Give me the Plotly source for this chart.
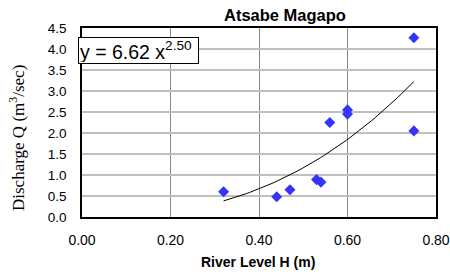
import numpy as np
import plotly.graph_objects as go

H = [0.32, 0.44, 0.47, 0.53, 0.54, 0.56, 0.60, 0.60, 0.75, 0.75]
Q = [0.60, 0.48, 0.65, 0.89, 0.83, 2.25, 2.55, 2.45, 4.27, 2.05]
coef = 6.62
expo = 2.50
x_ticks = [0.0, 0.2, 0.4, 0.6, 0.8]
y_ticks = [0.0, 0.5, 1.0, 1.5, 2.0, 2.5, 3.0, 3.5, 4.0, 4.5]

xf = np.linspace(min(H), max(H), 60)
yf = coef * xf ** expo

L, R, T, B = 82, 436, 28, 217
W, Hh = 450, 277
pw, ph = R - L, B - T

fig = go.Figure()
fig.add_trace(go.Scatter(x=xf, y=yf, mode="lines",
                         line=dict(color="black", width=1), hoverinfo="skip"))
fig.add_trace(go.Scatter(x=H, y=Q, mode="markers",
                         marker=dict(symbol="diamond", size=8.5, color="#3535F8")))

fig.update_layout(
    width=W, height=Hh,
    margin=dict(l=L, r=W - R, t=T, b=Hh - B, autoexpand=False),
    paper_bgcolor="white", plot_bgcolor="white",
    showlegend=False,
    font=dict(family="Liberation Sans, Arial", size=13.5, color="black"),
)
fig.update_xaxes(range=[0, 0.8], tickvals=x_ticks, ticktext=[f"{v:.2f}" for v in x_ticks],
                 showgrid=True, gridcolor="#888888", gridwidth=1,
                 showline=True, linecolor="black", linewidth=1.5, mirror=True,
                 ticks="", zeroline=False, ticklabelstandoff=9, automargin=False,
                 tickfont=dict(size=14))
fig.update_yaxes(range=[0, 4.5], tickvals=y_ticks, ticktext=[f"{v:.1f}" for v in y_ticks],
                 showgrid=True, gridcolor="#c0c0c0", gridwidth=1.5,
                 showline=True, linecolor="black", linewidth=1.5, mirror=True,
                 ticks="", zeroline=False, ticklabelstandoff=11, automargin=False,
                 tickfont=dict(size=13.5))

# chart title
fig.add_annotation(xref="paper", yref="paper", x=(285 - L) / pw, y=(B - 14.5) / ph,
                   xanchor="center", yanchor="middle", showarrow=False,
                   text="<b>Atsabe Magapo</b>",
                   font=dict(size=16.5, family="Liberation Sans, Arial", color="black"))
# x axis title
fig.add_annotation(xref="paper", yref="paper", x=(258 - L) / pw, y=(B - 262) / ph,
                   xanchor="center", yanchor="middle", showarrow=False,
                   text="<b>River Level H (m)</b>",
                   font=dict(size=14, family="Liberation Sans, Arial", color="black"))
# y axis title
fig.add_annotation(xref="paper", yref="paper", x=(16.5 - L) / pw, y=(B - 138.5) / ph,
                   xanchor="center", yanchor="middle", showarrow=False, textangle=-90,
                   text="Discharge Q (m<sup>3</sup>/sec)",
                   font=dict(size=17, family="Liberation Serif, Times New Roman", color="black"))
# equation box
fig.add_annotation(xref="paper", yref="paper", x=(138.3 - L) / pw, y=(B - 50.7) / ph,
                   xanchor="center", yanchor="middle", width=117, height=23, align="left",
                   text=f"y = {coef:.2f} x<sup>{expo:.2f}</sup>", showarrow=False,
                   font=dict(size=19.5, family="Liberation Sans, Arial", color="black"),
                   bgcolor="white", bordercolor="black", borderwidth=1, borderpad=1)

fig.write_html("out.html", config={"displayModeBar": False},
               post_script="document.body.style.margin='0';")
